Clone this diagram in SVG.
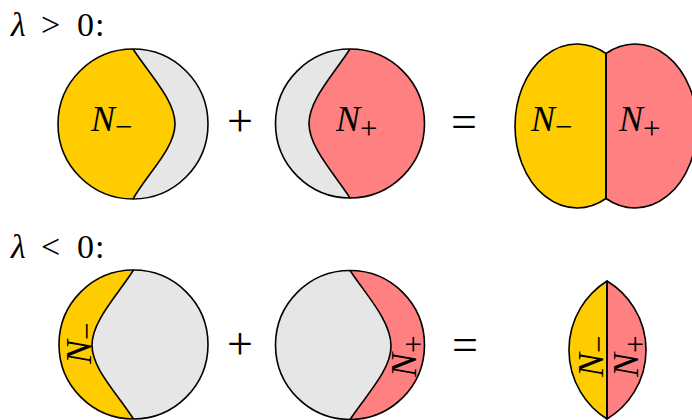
<svg xmlns="http://www.w3.org/2000/svg" width="692" height="420" viewBox="0 0 692 420">
<style>
.o{stroke:#000;stroke-width:1.6;stroke-linejoin:round}
.y{fill:#FFCC00}
.p{fill:#FF8080}
.g{fill:#E6E6E6}
.n{fill:none}
text{font-family:'Liberation Serif','Times New Roman',serif;fill:#000}
.m{font-size:36px;font-style:italic}
.s{font-size:31px;font-style:normal}
.op{font-size:46px;text-anchor:middle}
.h{font-size:34px}
</style>
<rect width="692" height="420" fill="#fff"/>

<g id="label-pos">
<text class="h" y="36"><tspan x="11" font-style="italic">λ</tspan><tspan x="41">&gt;</tspan><tspan x="77">0</tspan><tspan x="95">:</tspan></text>
</g>
<g id="label-neg">
<text class="h" y="258"><tspan x="11" font-style="italic">λ</tspan><tspan x="41">&lt;</tspan><tspan x="77">0</tspan><tspan x="95">:</tspan></text>
</g>

<g id="top-minus">
<circle class="g" cx="133" cy="124" r="75"/>
<path class="y" d="M133,49 A75,75 0 0,0 133,199 C148,173 175,148 175,124 C175,100 150,75 133,49 Z"/>
<circle class="o n" cx="133" cy="124" r="75"/>
<path class="o n" d="M133,49 C150,75 175,100 175,124 C175,148 148,173 133,199"/>
<text class="m" x="91" y="131">N<tspan class="s" dy="6">−</tspan></text>
</g>

<g id="top-plus-op"><text class="op" x="240" y="136">+</text></g>

<g id="top-plus">
<circle class="g" cx="350" cy="123.5" r="74.5"/>
<path class="p" d="M350,49 A74.5,74.5 0 0,1 350,198 C333,172 309,147 309,123.5 C309,100 333,75 350,49 Z"/>
<circle class="o n" cx="350" cy="123.5" r="74.5"/>
<path class="o n" d="M350,49 C333,75 309,100 309,123.5 C309,147 333,172 350,198"/>
<text class="m" x="336" y="131">N<tspan class="s" dy="8">+</tspan></text>
</g>

<g id="top-eq-op"><text class="op" x="464" y="136.5">=</text></g>

<g id="top-result">
<path class="y o" d="M606,53.5 A62,82 0 1,0 606,198.5 Z"/>
<path class="p o" d="M606,53.5 A62,82 0 1,1 606,198.5 Z"/>
<line class="o" x1="606" y1="53.5" x2="606" y2="198.5" stroke-width="2.2"/>
<text class="m" x="531" y="131">N<tspan class="s" dy="6">−</tspan></text>
<text class="m" x="619" y="131">N<tspan class="s" dy="8">+</tspan></text>
</g>

<g id="bottom-minus">
<circle class="g" cx="133.5" cy="344.5" r="74.5"/>
<path class="y" d="M133.5,270 A74.5,74.5 0 0,0 133.5,419 C117,393 92,369 92,345 C92,321 117,296 133.5,270 Z"/>
<circle class="o n" cx="133.5" cy="344.5" r="74.5"/>
<path class="o n" d="M133.5,270 C117,296 92,321 92,345 C92,369 117,393 133.5,419"/>
<text class="m" transform="translate(91,364) rotate(-90)">N<tspan class="s" dy="6">−</tspan></text>
</g>

<g id="bottom-plus-op"><text class="op" x="240" y="359">+</text></g>

<g id="bottom-plus">
<circle class="g" cx="350" cy="345" r="74.5"/>
<path class="p" d="M350,270.5 A74.5,74.5 0 0,1 350,419.5 C367,394 391,370 391,346 C391,321 367,296 350,270.5 Z"/>
<circle class="o n" cx="350" cy="345" r="74.5"/>
<path class="o n" d="M350,270.5 C367,296 391,321 391,346 C391,370 367,394 350,419.5"/>
<text class="m" transform="translate(416,377) rotate(-90)">N<tspan class="s" dy="8">+</tspan></text>
</g>

<g id="bottom-eq-op"><text class="op" x="465" y="359.5">=</text></g>

<g id="bottom-result">
<path class="y o" d="M607,281 A81.6,81.6 0 0,0 607,419 Z"/>
<path class="p o" d="M607,281 A80.5,80.5 0 0,1 607,419 Z"/>
<line class="o" x1="607" y1="281" x2="607" y2="419" stroke-width="3"/>
<text class="m" transform="translate(603,377) rotate(-90)">N<tspan class="s" dy="6">−</tspan></text>
<text class="m" transform="translate(638,377) rotate(-90)">N<tspan class="s" dy="8">+</tspan></text>
</g>
</svg>
